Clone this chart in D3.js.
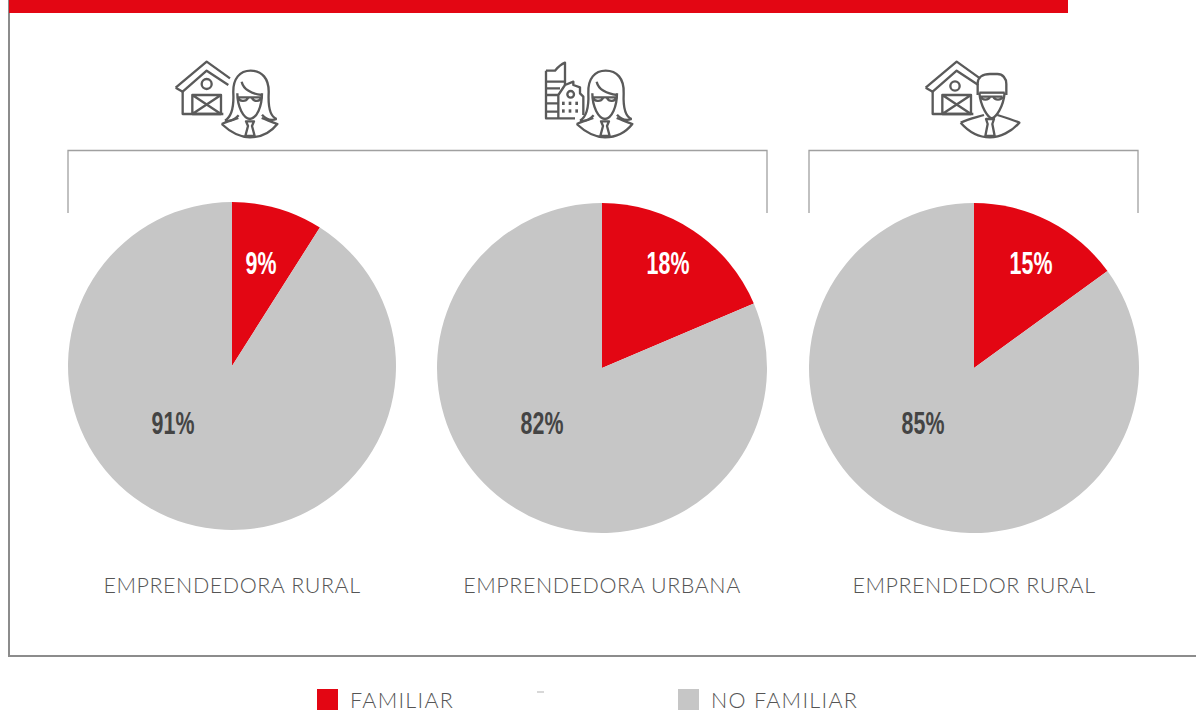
<!DOCTYPE html>
<html>
<head>
<meta charset="utf-8">
<script src="https://cdn.jsdelivr.net/npm/d3@7"></script>
<style>
  html, body { margin: 0; padding: 0; background: #fff; overflow: hidden; }
  .cat, .leg { font-family: Lato, "Open Sans", sans-serif; font-weight: 300; fill: #555; }
  .pct { font-family: "Liberation Sans", sans-serif; font-weight: 700; }
  .icon path, .icon circle { fill: none; stroke: #5a5a5a; stroke-width: 7; stroke-linejoin: round; }
</style>
</head>
<body>
<div id="chart-area"></div>
<script>
const categories = ["EMPRENDEDORA RURAL", "EMPRENDEDORA URBANA", "EMPRENDEDOR RURAL"]
const seriesNames = ["FAMILIAR", "NO FAMILIAR"]
const familiar = [9, 18.6, 15]
const noFamiliar = [91, 81.4, 85]
const familiarLabels = ["9%", "18%", "15%"]
const noFamiliarLabels = ["91%", "82%", "85%"]
const colors = ["#e30613", "#c6c6c6"]

const WIDTH = 1196
const HEIGHT = 710

// where each pie sits on the page, plus the label offsets from its centre
const PIES = [
	{cx: 232, cy: 366, r: 164, redX: 29, greyX: -59},
	{cx: 602, cy: 368, r: 165, redX: 66, greyX: -60},
	{cx: 974, cy: 368, r: 165, redX: 57, greyX: -51}
]

const svg = d3.select("#chart-area").append("svg")
	.attr("width", WIDTH)
	.attr("height", HEIGHT)
	.style("display", "block")

// frame and red top bar
svg.append("path")
	.attr("d", "M9,0V656H1196")
	.attr("fill", "none")
	.attr("stroke", "#8c8c8c")
	.attr("stroke-width", 2)
svg.append("rect")
	.attr("x", 9).attr("y", 0)
	.attr("width", 1059).attr("height", 13)
	.attr("fill", colors[0])

// brackets
const brackets = [[68, 767], [809, 1138]]
svg.selectAll(".bracket")
	.data(brackets)
	.enter().append("path")
	.attr("class", "bracket")
	.attr("d", d => `M${d[0]},213V150.5H${d[1]}V213`)
	.attr("fill", "none")
	.attr("stroke", "#a0a0a0")
	.attr("stroke-width", 1.3)

// pies
const color = d3.scaleOrdinal().domain(seriesNames).range(colors)
const pie = d3.pie().sort(null).value(d => d.value)

categories.forEach((cat, i) => {
	const p = PIES[i]
	const g = svg.append("g").attr("transform", `translate(${p.cx}, ${p.cy})`)
	const arc = d3.arc().innerRadius(0).outerRadius(p.r)
	const rows = [
		{name: seriesNames[0], value: familiar[i]},
		{name: seriesNames[1], value: noFamiliar[i]}
	]
	g.selectAll("path")
		.data(pie(rows))
		.enter().append("path")
		.attr("d", arc)
		.attr("fill", d => color(d.data.name))

	pctLabel(p.cx + p.redX, 274, familiarLabels[i], "#fff")
	pctLabel(p.cx + p.greyX, 434, noFamiliarLabels[i], "#444")

	svg.append("text")
		.attr("class", "cat")
		.attr("x", p.cx)
		.attr("y", 593)
		.attr("font-size", "21.5px")
		.attr("letter-spacing", "0.55px")
		.attr("text-anchor", "middle")
		.text(cat)
})

function pctLabel(x, y, txt, fill) {
	svg.append("text")
		.attr("class", "pct")
		.attr("transform", `translate(${x}, ${y}) scale(0.69, 1)`)
		.attr("font-size", "31px")
		.attr("text-anchor", "middle")
		.attr("fill", fill)
		.text(txt)
}

// legend
const legendX = [317, 678]
const legend = svg.selectAll(".legend")
	.data(seriesNames)
	.enter().append("g")
	.attr("class", "legend")
	.attr("transform", (d, i) => `translate(${legendX[i]}, 689)`)
legend.append("rect")
	.attr("width", 21).attr("height", 21)
	.attr("fill", d => color(d))
legend.append("text")
	.attr("class", "leg")
	.attr("x", 33)
	.attr("y", 19)
	.attr("font-size", "21.5px")
	.attr("letter-spacing", "1.3px")
	.text(d => d)

svg.append("rect")
	.attr("x", 537).attr("y", 691)
	.attr("width", 7).attr("height", 2)
	.attr("fill", "#d8d8d8")

// icons, traced at 3x then scaled down
const WOMAN = [
	"M195,212C215,200 222,175 220,130C218,85 240,62 272,62C305,62 328,85 326,130C324,175 330,200 350,207",
	"M195,212C210,215 225,208 236,196M350,207C335,212 318,208 306,194",
	"M232,130C232,170 250,205 270,207C290,205 306,170 306,130",
	"M245,95C250,118 275,132 306,135",
	"M234,142H304M234,142C238,156 258,156 264,144M276,144C282,156 300,156 304,142",
	"M185,222C215,250 240,262 270,262C300,262 330,250 352,222C335,215 320,210 305,204M185,222C200,215 220,210 235,204",
	"M258,214H282L276,228L284,258H256L264,228Z"
]
const MAN = [
	"M203,135V100C203,82 218,72 240,72H262C278,72 289,85 289,102V135",
	"M208,128H284",
	"M208,128C212,172 234,202 245,205C258,202 280,172 284,128",
	"M212,140H278M212,140C216,152 236,152 240,140M250,140C254,152 274,152 278,140",
	"M152,218C180,250 210,262 240,262C270,262 305,245 328,218C310,210 285,202 262,195M152,218C175,208 200,202 222,195",
	"M228,207H252L247,222L254,258H226L233,222Z"
]
const BARN = [
	"M47,113L140,35L210,85",
	"M47,113L68,125L140,62L205,105",
	"M68,125V192H190",
	"M97,135H183V192H97ZM97,135L183,192M183,135L97,192"
]
const TOWER = [
	"M48,62V205H135",
	"M48,62H75C85,50 95,42 105,38V105",
	"M48,95H105M48,115H90M48,135H85M48,160H85M48,185H85",
	"M85,205V135L105,105L130,95V105L150,112V130L160,140V195"
]
const DOTS = [[100, 160], [120, 160], [140, 160], [100, 183], [120, 183], [140, 183]]

function drawIcon(ox, oy, paths, circle) {
	const g = svg.append("g")
		.attr("class", "icon")
		.attr("transform", `translate(${ox}, ${oy}) scale(${1 / 3})`)
	g.selectAll("path").data(paths).enter().append("path").attr("d", d => d)
	if (circle) {
		g.append("circle").attr("cx", circle[0]).attr("cy", circle[1]).attr("r", circle[2])
	}
	return g
}

drawIcon(160, 50, BARN, [140, 102, 15])
drawIcon(160, 50, WOMAN)
drawIcon(530, 50, TOWER, [122, 133, 10])
	.selectAll(".dot").data(DOTS).enter().append("rect")
	.attr("class", "dot")
	.attr("x", d => d[0] - 4).attr("y", d => d[1] - 5)
	.attr("width", 8).attr("height", 10)
	.attr("fill", "#5a5a5a")
drawIcon(515, 50, WOMAN)
drawIcon(910, 50, BARN, [135, 108, 14])
drawIcon(910, 50, MAN)
</script>
</body>
</html>
